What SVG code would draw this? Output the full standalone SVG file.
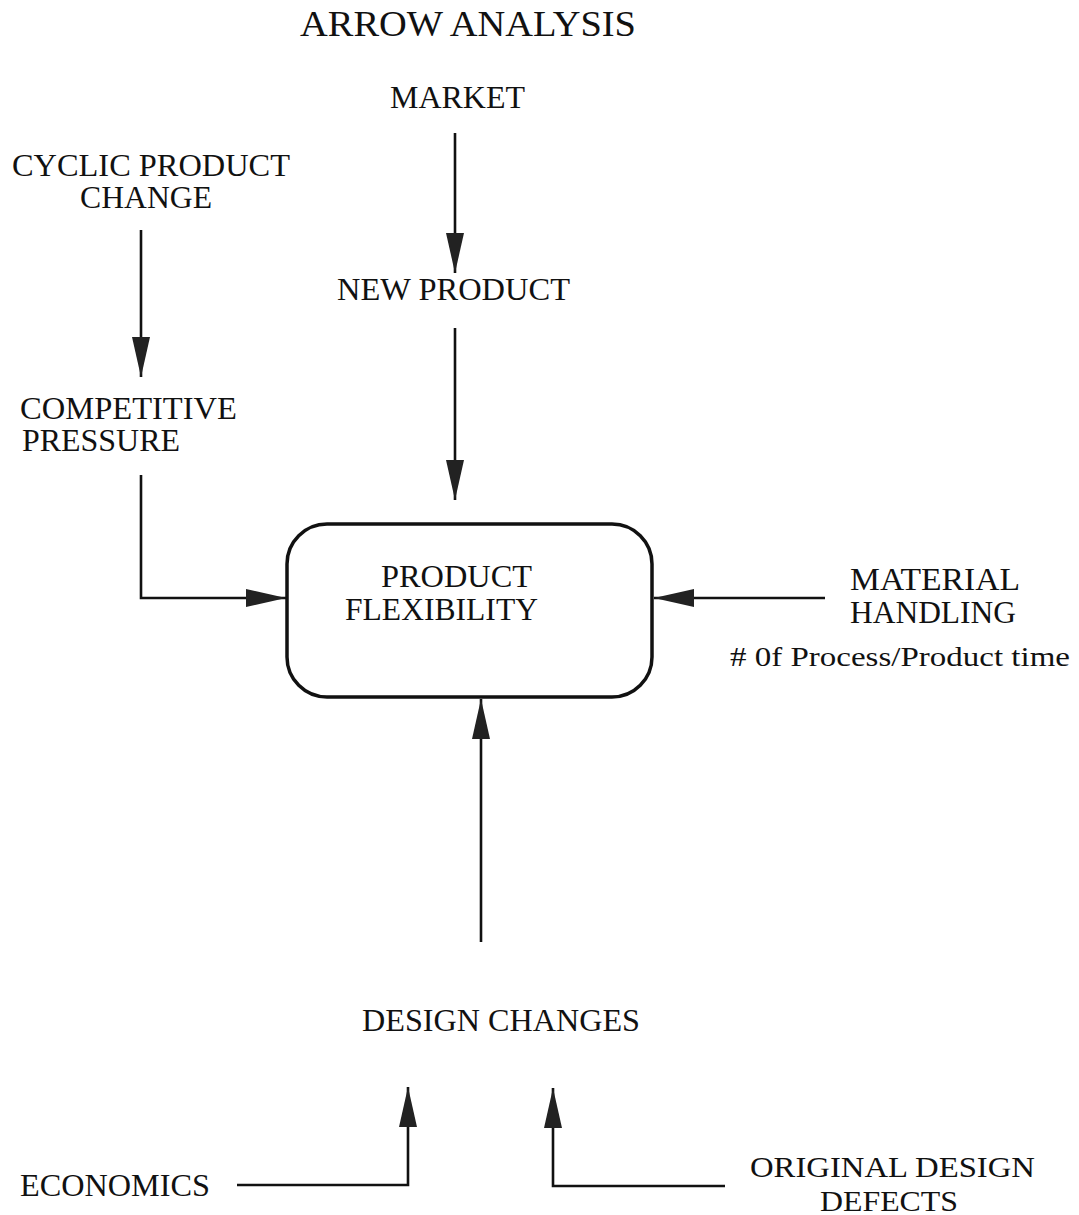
<svg xmlns="http://www.w3.org/2000/svg" width="1079" height="1215" viewBox="0 0 1079 1215">
<style>
text{font-family:"Liberation Serif","Times New Roman",serif;fill:#111;}
.l{font-size:31px;}
.m{font-size:30px;}
.t{font-size:35px;}
.s{font-size:27px;}
.c{stroke:#111;stroke-width:2.6;fill:none;marker-end:url(#ah);}
.box{stroke:#111;stroke-width:3.5;fill:#fff;}
</style>
<defs>
<marker id="ah" viewBox="0 0 40 18" refX="40" refY="9" markerWidth="40" markerHeight="18" markerUnits="userSpaceOnUse" orient="auto">
<path d="M0,0 L40,9 L0,18 Z" fill="#222"/>
</marker>
</defs>
<rect width="1079" height="1215" fill="#fff"/>
<g id="title"><text class="t" x="300" y="36" textLength="336" lengthAdjust="spacingAndGlyphs">ARROW ANALYSIS</text></g>
<g id="market"><text class="l" x="390" y="108" textLength="135" lengthAdjust="spacingAndGlyphs">MARKET</text></g>
<g id="cyclic">
<text class="l" x="12" y="176" textLength="278" lengthAdjust="spacingAndGlyphs">CYCLIC PRODUCT</text>
<text class="l" x="80" y="208" textLength="132" lengthAdjust="spacingAndGlyphs">CHANGE</text>
</g>
<g id="newproduct"><text class="l" x="337" y="300" textLength="233" lengthAdjust="spacingAndGlyphs">NEW PRODUCT</text></g>
<g id="competitive">
<text class="l" x="20" y="419" textLength="217" lengthAdjust="spacingAndGlyphs">COMPETITIVE</text>
<text class="l" x="22" y="451" textLength="158" lengthAdjust="spacingAndGlyphs">PRESSURE</text>
</g>
<g id="flexibility">
<rect class="box" x="287" y="524" width="365" height="173" rx="40" ry="40"/>
<text class="l" x="381" y="587" textLength="151" lengthAdjust="spacingAndGlyphs">PRODUCT</text>
<text class="l" x="345" y="620" textLength="193" lengthAdjust="spacingAndGlyphs">FLEXIBILITY</text>
</g>
<g id="material">
<text class="l" x="850" y="590" textLength="170" lengthAdjust="spacingAndGlyphs">MATERIAL</text>
<text class="l" x="850" y="623" textLength="166" lengthAdjust="spacingAndGlyphs">HANDLING</text>
<text class="s" x="730" y="666" textLength="340" lengthAdjust="spacingAndGlyphs"># 0f Process/Product time</text>
</g>
<g id="design"><text class="l" x="362" y="1031" textLength="278" lengthAdjust="spacingAndGlyphs">DESIGN CHANGES</text></g>
<g id="economics"><text class="l" x="20" y="1196" textLength="190" lengthAdjust="spacingAndGlyphs">ECONOMICS</text></g>
<g id="original">
<text class="m" x="750" y="1177" textLength="285" lengthAdjust="spacingAndGlyphs">ORIGINAL DESIGN</text>
<text class="m" x="820" y="1211" textLength="138" lengthAdjust="spacingAndGlyphs">DEFECTS</text>
</g>
<g id="connectors">
<path class="c" d="M455,133 L455,273"/>
<path class="c" d="M455,328 L455,500"/>
<path class="c" d="M141,230 L141,377"/>
<path class="c" d="M141,475 L141,598 L286,598"/>
<path class="c" d="M825,598 L654,598"/>
<path class="c" d="M481,942 L481,699"/>
<path class="c" d="M237,1185 L408,1185 L408,1087"/>
<path class="c" d="M725,1186 L553,1186 L553,1088"/>
</g>
</svg>
